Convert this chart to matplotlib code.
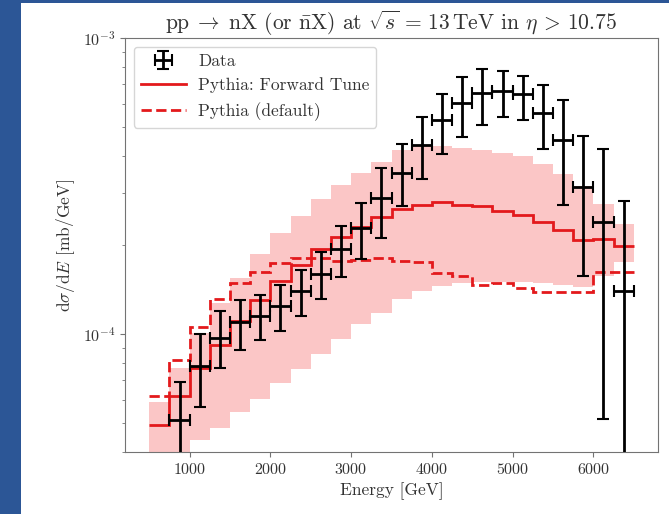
import numpy as np
import matplotlib
matplotlib.use("Agg")
import matplotlib.pyplot as plt
from matplotlib.patches import Rectangle

plt.rcParams['font.family'] = 'serif'
plt.rcParams['font.serif'] = ['cmr10']
plt.rcParams['mathtext.fontset'] = 'cm'
plt.rcParams['axes.formatter.use_mathtext'] = True

# bins of the model histograms (GeV)
edges = np.arange(500, 6501, 250)

# Pythia forward tune, default tune and forward-tune band (mb/GeV)
fwd = [4.92e-5, 6.20e-5, 7.69e-5, 9.22e-5, 1.104e-4, 1.302e-4, 1.515e-4, 1.714e-4,
       1.935e-4, 2.13e-4, 2.30e-4, 2.49e-4, 2.65e-4, 2.72e-4, 2.79e-4, 2.74e-4,
       2.70e-4, 2.60e-4, 2.52e-4, 2.40e-4, 2.25e-4, 2.08e-4, 2.09e-4, 1.98e-4]
dflt = [6.16e-5, 8.20e-5, 1.058e-4, 1.315e-4, 1.485e-4, 1.627e-4, 1.745e-4, 1.806e-4,
        1.81e-4, 1.77e-4, 1.775e-4, 1.806e-4, 1.76e-4, 1.75e-4, 1.607e-4, 1.566e-4,
        1.464e-4, 1.485e-4, 1.434e-4, 1.383e-4, 1.383e-4, 1.383e-4, 1.627e-4, 1.627e-4]
band_hi = [5.89e-5, 7.69e-5, 1.012e-4, 1.27e-4, 1.546e-4, 1.862e-4, 2.195e-4, 2.51e-4,
           2.85e-4, 3.20e-4, 3.50e-4, 3.81e-4, 4.17e-4, 4.33e-4, 4.31e-4, 4.24e-4,
           4.19e-4, 4.09e-4, 3.98e-4, 3.74e-4, 3.47e-4, 3.16e-4, 2.76e-4, 2.36e-4]
band_lo = [3.0e-5, 3.8e-5, 4.38e-5, 4.83e-5, 5.45e-5, 6.04e-5, 6.85e-5, 7.63e-5,
           8.60e-5, 9.64e-5, 1.086e-4, 1.18e-4, 1.316e-4, 1.404e-4, 1.455e-4, 1.485e-4,
           1.505e-4, 1.505e-4, 1.495e-4, 1.485e-4, 1.465e-4, 1.444e-4, 1.576e-4, 1.75e-4]

# measured data
data_e = np.arange(875, 6376, 250)
data_v = np.array([5.12e-5, 7.83e-5, 9.71e-5, 1.10e-4, 1.156e-4, 1.243e-4, 1.396e-4, 1.60e-4,
                   1.937e-4, 2.29e-4, 2.88e-4, 3.51e-4, 4.34e-4, 5.27e-4, 6.03e-4, 6.52e-4,
                   6.64e-4, 6.47e-4, 5.60e-4, 4.51e-4, 3.15e-4, 2.39e-4, 1.40e-4])
data_lo = np.array([2.5e-5, 5.68e-5, 7.69e-5, 8.82e-5, 9.59e-5, 1.022e-4, 1.149e-4, 1.316e-4,
                    1.554e-4, 1.793e-4, 2.11e-4, 2.70e-4, 3.35e-4, 4.06e-4, 4.62e-4, 5.07e-4,
                    5.39e-4, 5.27e-4, 4.23e-4, 2.74e-4, 1.576e-4, 5.16e-5, 1.5e-5])
data_hi = np.array([6.89e-5, 1.004e-4, 1.195e-4, 1.302e-4, 1.352e-4, 1.469e-4, 1.642e-4, 1.898e-4,
                    2.322e-4, 2.768e-4, 3.65e-4, 4.38e-4, 5.39e-4, 6.48e-4, 7.41e-4, 7.87e-4,
                    7.76e-4, 7.47e-4, 6.95e-4, 6.16e-4, 4.67e-4, 4.23e-4, 2.81e-4])

W, H = 669, 514
fig = plt.figure(figsize=(W / 100, H / 100), dpi=100)
fig.patch.set_facecolor('#2c5696')
fig.add_artist(Rectangle((21 / W, 0), 1 - 21 / W, 1 - 3 / H, transform=fig.transFigure,
                         facecolor='white', edgecolor='none', zorder=0))

ax = fig.add_axes([125 / W, 62 / H, 533 / W, 414 / H])
ax.set_facecolor('white')

ax.stairs(band_hi, edges, baseline=band_lo, fill=True, color='#fbc6c6', lw=0)
l1 = ax.stairs(fwd, edges, baseline=None, color='#e3191c', lw=2, label='Pythia: Forward Tune')
l2 = ax.stairs(dflt, edges, baseline=None, color='#e3191c', lw=2, ls='--',
               label='Pythia (default)')
eb = ax.errorbar(data_e, data_v, xerr=125, yerr=[data_v - data_lo, data_hi - data_v],
                 fmt='none', ecolor='black', elinewidth=2, capsize=4, capthick=1.5,
                 label='Data', zorder=5)

ax.set_yscale('log')
ax.set_xlim(200, 6800)
ax.set_ylim(4e-5, 1e-3)
ax.set_xticks([1000, 2000, 3000, 4000, 5000, 6000])

for s in ax.spines.values():
    s.set_color('0.45')
ax.tick_params(which='both', colors='0.45', labelcolor='0.2', labelsize=11.5)

ax.set_xlabel('Energy [GeV]', fontsize=12.5, color='0.2')
ax.set_ylabel(r'$\mathrm{d}\sigma/\mathrm{d}E$ [mb/GeV]', fontsize=12.5, color='0.2')
ax.set_title(r'$\mathrm{pp} \;\rightarrow\; \mathrm{nX}$ (or $\bar{\mathrm{n}}\mathrm{X}$) at '
             r'$\sqrt{s} \,=\, 13\,\mathrm{TeV}$ in $\eta \,>\, 10.75$',
             fontsize=15.5, color='0.2', pad=6)

leg = ax.legend(handles=[eb, l1, l2], loc='upper left', fontsize=12.5, labelcolor='0.2',
                handlelength=2.6, handletextpad=0.7)

fig.savefig('out.png', dpi=100, facecolor=fig.get_facecolor())
